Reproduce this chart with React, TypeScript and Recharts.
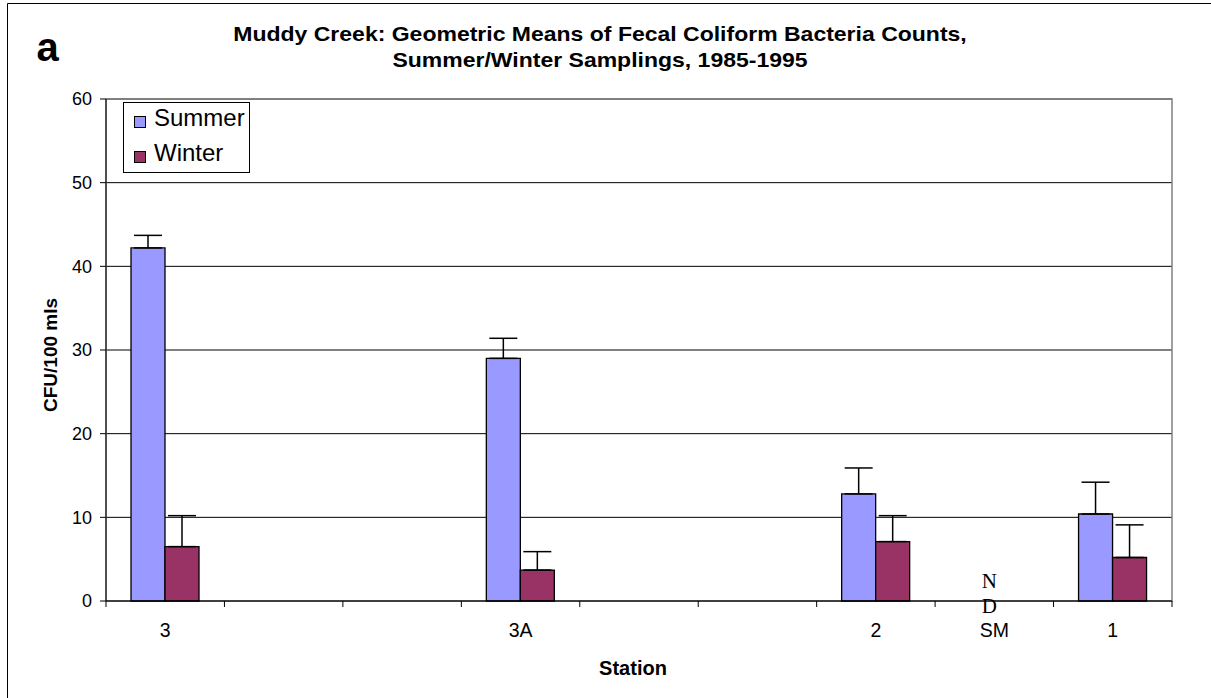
import React from 'react';
import {
  BarChart,
  Bar,
  XAxis,
  YAxis,
  CartesianGrid,
  ErrorBar,
  Legend,
  Label,
  ReferenceArea,
  ReferenceDot,
} from 'recharts';

// stations from upstream to downstream, blank slots keep Excel's spacing
const stations = ['3', '', '', '3A', '', '', '2', 'SM', '1'];
const summerMeans = [42.2, null, null, 29.0, null, null, 12.8, null, 10.4];
const summerErrors = [1.5, null, null, 2.4, null, null, 3.1, null, 3.8];
const winterMeans = [6.5, null, null, 3.7, null, null, 7.1, null, 5.2];
const winterErrors = [3.7, null, null, 2.2, null, null, 3.1, null, 3.9];
const yTicks = [0, 10, 20, 30, 40, 50, 60];
const noDataStation = 'SM';

const SUMMER = '#9999FF';
const WINTER = '#993366';
const FONT = '"Liberation Sans", Arial, Helvetica, sans-serif';
const SERIF = '"Liberation Serif", "Times New Roman", serif';

const rows = stations.map((name, i) => ({
  slot: `s${i}`,
  name,
  summer: summerMeans[i],
  winter: winterMeans[i],
  // only the upper half of the error bar is shown
  summerErr: summerErrors[i] == null ? null : [0, summerErrors[i]],
  winterErr: winterErrors[i] == null ? null : [0, winterErrors[i]],
}));

const ndSlot = rows[stations.indexOf(noDataStation)].slot;

const StationTick = (props: any) => {
  const { x, y, payload, index } = props;
  const half = payload && payload.offset ? payload.offset : 1066 / stations.length / 2;
  const row = rows.find((r) => r.slot === payload.value);
  const last = index === stations.length - 1;
  return (
    <g>
      <line x1={x - half} x2={x - half} y1={y} y2={y + 6} stroke="#000" />
      {last && <line x1={x + half} x2={x + half} y1={y} y2={y + 6} stroke="#000" />}
      <text x={x} y={y + 36} textAnchor="middle" fontFamily={FONT} fontSize={19.5} fill="#000">
        {row ? row.name : ''}
      </text>
    </g>
  );
};

const renderYLabel = (props: any) => {
  const { viewBox } = props;
  const x = viewBox.x + 57;
  const y = viewBox.y + viewBox.height / 2 + 5;
  return (
    <text
      x={x}
      y={y}
      transform={`rotate(-90 ${x} ${y})`}
      textAnchor="middle"
      fontFamily={FONT}
      fontWeight="bold"
      fontSize={19}
      fill="#000"
    >
      CFU/100 mls
    </text>
  );
};

const renderXLabel = (props: any) => {
  const { viewBox } = props;
  return (
    <text
      x={viewBox.x + viewBox.width / 2 - 6}
      y={viewBox.y + 74}
      textAnchor="middle"
      fontFamily={FONT}
      fontWeight="bold"
      fontSize={20}
      fill="#000"
    >
      Station
    </text>
  );
};

const renderNoData = (props: any) => {
  const { viewBox } = props;
  const cx = viewBox.x + viewBox.width / 2 - 5;
  const cy = viewBox.y + viewBox.height / 2;
  return (
    <g fontFamily={SERIF} fontSize={21} fill="#000" textAnchor="middle">
      <text x={cx} y={cy - 13}>N</text>
      <text x={cx} y={cy + 12}>D</text>
    </g>
  );
};

const LegendBox = (props: any) => {
  const items = props.payload || [];
  return (
    <div
      style={{
        width: 127,
        height: 71,
        boxSizing: 'border-box',
        border: '1px solid #000',
        background: '#fff',
        fontFamily: FONT,
        fontSize: 24,
        color: '#000',
        paddingTop: 1,
      }}
    >
      {items.map((item: any) => (
        <div key={item.value} style={{ display: 'flex', alignItems: 'center', height: 35 }}>
          <span
            style={{
              display: 'inline-block',
              width: 12,
              height: 12,
              boxSizing: 'border-box',
              border: '1px solid #000',
              background: item.color,
              marginLeft: 10,
              marginRight: 8,
            }}
          />
          <span style={{ position: 'relative', top: -4, lineHeight: 1 }}>{item.value}</span>
        </div>
      ))}
    </div>
  );
};

export default function App() {
  return (
    <div
      style={{
        position: 'absolute',
        left: 0,
        top: 0,
        width: 1211,
        height: 698,
        overflow: 'hidden',
        background: '#fff',
      }}
    >
      <BarChart
        width={1211}
        height={698}
        data={rows}
        margin={{ top: 99, right: 39, bottom: 67, left: 0 }}
        barGap={0}
        barSize={34}
      >
        <CartesianGrid vertical={false} stroke="#000" />
        <ReferenceArea y1={0} y2={60} fill="none" stroke="#808080" strokeWidth={1.5} ifOverflow="visible" />
        <XAxis
          dataKey="slot"
          height={30}
          interval={0}
          tickSize={0}
          tickMargin={0}
          tickLine={false}
          axisLine={{ stroke: '#000' }}
          tick={<StationTick />}
        >
          <Label content={renderXLabel} />
        </XAxis>
        <YAxis
          width={106}
          domain={[0, 60]}
          ticks={yTicks}
          interval={0}
          tickSize={6}
          tickMargin={8}
          axisLine={{ stroke: '#000' }}
          tickLine={{ stroke: '#000' }}
          tick={{ fill: '#000', fontSize: 18, fontFamily: FONT }}
        >
          <Label content={renderYLabel} />
        </YAxis>
        <Bar dataKey="summer" name="Summer" fill={SUMMER} stroke="#000" strokeWidth={1.3} isAnimationActive={false}>
          <ErrorBar dataKey="summerErr" direction="y" width={14} stroke="#000" strokeWidth={1.5} isAnimationActive={false} />
        </Bar>
        <Bar dataKey="winter" name="Winter" fill={WINTER} stroke="#000" strokeWidth={1.3} isAnimationActive={false}>
          <ErrorBar dataKey="winterErr" direction="y" width={14} stroke="#000" strokeWidth={1.5} isAnimationActive={false} />
        </Bar>
        <ReferenceDot x={ndSlot} y={0} r={1} fill="none" stroke="none" ifOverflow="visible" label={renderNoData} />
        <Legend
          layout="vertical"
          align="center"
          verticalAlign="middle"
          content={<LegendBox />}
          wrapperStyle={{ left: 123, top: 102, width: 127, height: 71 }}
        />
      </BarChart>
      <svg
        width={1211}
        height={698}
        style={{ position: 'absolute', left: 0, top: 0, pointerEvents: 'none' }}
      >
        <line x1={7.5} y1={3.5} x2={1211} y2={3.5} stroke="#000" />
        <line x1={7.5} y1={3.5} x2={7.5} y2={698} stroke="#000" />
        <text x={36.5} y={61} fontFamily={FONT} fontWeight="bold" fontSize={40} fill="#000">
          a
        </text>
        <g fontFamily={FONT} fontWeight="bold" fontSize={19.5} fill="#000" textAnchor="middle">
          <text transform="translate(600 41) scale(1.18 1)">
            Muddy Creek: Geometric Means of Fecal Coliform Bacteria Counts,
          </text>
          <text transform="translate(600 67) scale(1.18 1)">Summer/Winter Samplings, 1985-1995</text>
        </g>
      </svg>
    </div>
  );
}
